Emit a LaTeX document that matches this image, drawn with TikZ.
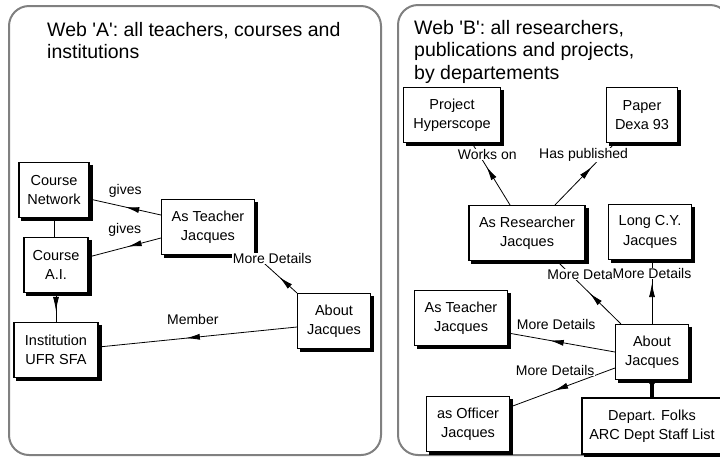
\documentclass[tikz,border=0pt]{standalone}
\usepackage{fontspec}
\setmainfont{Liberation Sans}
\usetikzlibrary{arrows.meta,decorations.markings}
\tikzset{
	panel/.style={draw=black!50, line width=2pt, rounded corners=20pt},
	heading/.style={anchor=north west, align=left, inner sep=0pt, font=\fontsize{19.5}{22.5}\selectfont},
	page/.style={draw, fill=white, line width=1.1pt, align=center, inner sep=0pt, minimum height=55pt,
		font=\fontsize{14.5}{19.5}\selectfont},
	edgeshadow/.style={line width=3pt},
	link/.style={line width=0.8pt},
	arrowat/.style={postaction={decorate}, decoration={markings, mark=at position #1 with {\arrow{Latex[length=14pt,width=6pt]}}}},
	tag/.style={font=\fontsize{14}{16}\selectfont, inner sep=0.5pt},
	tagw/.style={tag, fill=white}
}

\begin{document}
\begin{tikzpicture}[x=1pt, y=-1pt]
		%%%%% START %%%%%
		\useasboundingbox (0,0) rectangle (720,456);
		
		\draw[panel] (9,6) rectangle (381,455);
		\draw[panel] (398,5) rectangle (730,455);
		
		\node[heading] (headA) at (47,22) {Web \textquotesingle A\textquotesingle: all teachers, courses and\\institutions};
		\node[heading] (headB) at (414,20) {Web \textquotesingle B\textquotesingle: all researchers,\\publications and projects,\\by departements};
		
		% web A
		\node[page, minimum width=70pt] (cnet) at (54,190) {Course\\Network};
		\node[page, minimum width=64pt] (cai) at (56,265) {Course\\A.I.};
		\node[page, minimum width=84pt] (inst) at (56,350) {Institution\\UFR SFA};
		\node[page, minimum width=93pt] (teachA) at (208,227) {As Teacher\\Jacques};
		\node[page, minimum width=73pt] (aboutA) at (334,321) {About\\Jacques};
		
		% web B
		\node[page, minimum width=97pt] (proj) at (452,115) {Project\\Hyperscope};
		\node[page, minimum width=71pt] (paper) at (642,115) {Paper\\Dexa 93};
		\node[page, minimum width=116pt] (resB) at (527,233) {As Researcher\\Jacques};
		\node[page, minimum width=83pt] (cvB) at (650,232) {Long C.Y.\\Jacques};
		\node[page, minimum width=93pt] (teachB) at (461,318) {As Teacher\\Jacques};
		\node[page, minimum width=73pt] (aboutB) at (652,352) {About\\Jacques};
		\node[page, minimum width=83pt] (officer) at (468,424) {as Officer\\Jacques};
		\node[page, minimum width=140pt, minimum height=56pt] (depart) at (652,426) {Depart. Folks\\ARC Dept Staff List};
		
		% shadows on right and bottom
		\foreach \n in {cnet,cai,inst,teachA,aboutA,proj,paper,resB,cvB,teachB,aboutB,officer,depart}
			\draw[edgeshadow] ([xshift=1.5pt,yshift=-3pt]\n.north east) |- ([xshift=3pt,yshift=-1.5pt]\n.south west);
		
		\draw[link, arrowat=0.5] ([yshift=12pt]teachA.west) -- ([yshift=-9pt]cnet.east) node[tag, pos=0.5, yshift=16pt] {gives};
		\draw[link, arrowat=0.46] ([yshift=-11pt]teachA.west) -- ([yshift=8pt]cai.east) node[tag, pos=0.5, yshift=18pt] {gives};
		\draw[link] (cnet.south) -- (cnet.south |- cai.north);
		\draw[link, arrowat=0.62] (cai.south) -- (cai.south |- inst.north);
		\draw[link, arrowat=0.56] ([yshift=-6pt]aboutA.west) -- ([yshift=3pt]inst.east) node[tag, pos=0.525, yshift=18pt] {Member};
		\draw[link, arrowat=0.42] (aboutA.north west) -- (teachA.south east) node[tagw, pos=0.9, xshift=13pt] {More Details};
		
		\draw[link, arrowat=0.62] ([xshift=-17pt]resB.north) -- ([xshift=20pt]proj.south) node[tagw, pos=0.81, xshift=8pt] {Works on};
		\draw[link, arrowat=0.62] ([xshift=28pt]resB.north) -- ([xshift=-27pt]paper.south) node[tagw, pos=0.81, xshift=-20pt] {Has published};
		\draw[link, arrowat=0.49] ([xshift=6pt]aboutB.north west) -- ([xshift=30pt]resB.south) node[tagw, pos=0.785, xshift=16pt] {More Details};
		\draw[link, arrowat=0.64] (aboutB.north) -- (aboutB.north |- cvB.south) node[tagw, pos=0.79] {More Details};
		\draw[link, arrowat=0.61] (aboutB.west) -- ([yshift=-15pt]teachB.east) node[tag, pos=0.55, yshift=17.5pt] {More Details};
		\draw[link, arrowat=0.58] ([yshift=-16pt]aboutB.west) -- ([yshift=17pt]officer.east) node[tagw, pos=0.57, yshift=20pt] {More Details};
		\draw[line width=3.5pt, postaction={decorate}, decoration={markings, mark=at position 0.45 with {\arrow{Latex[length=7pt,width=10pt]}}}] (aboutB.south) -- (aboutB.south |- depart.north);
		
		%%%%% END %%%%%
\end{tikzpicture}
\end{document}
